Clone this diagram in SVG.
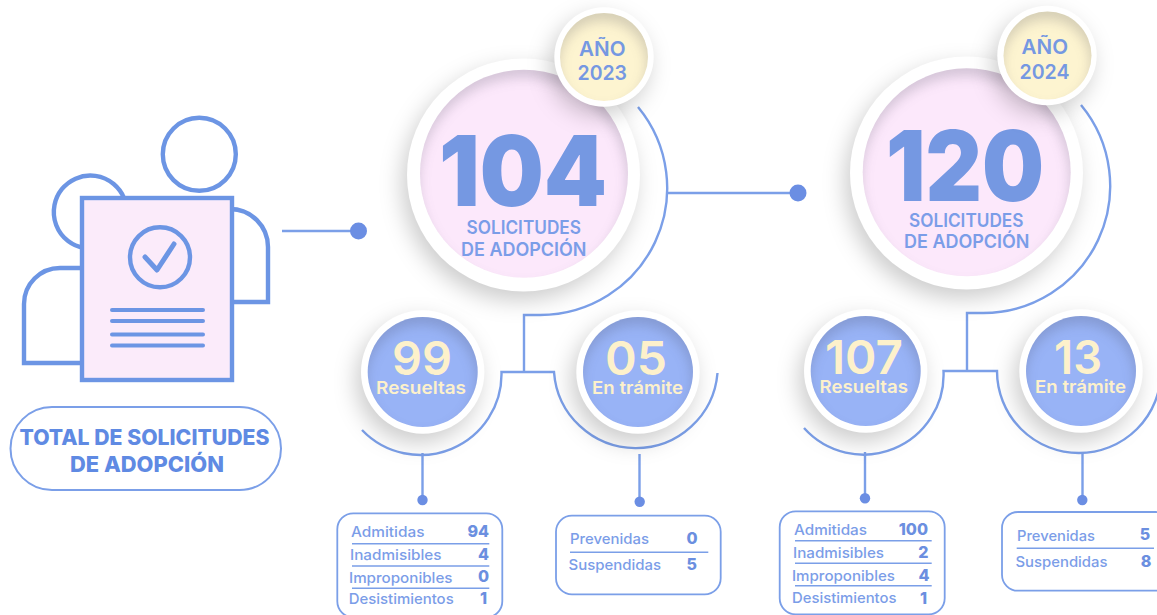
<svg xmlns="http://www.w3.org/2000/svg" width="1157" height="615" viewBox="0 0 1157 615">
<style>
text{font-family:"Inter","Liberation Sans",sans-serif}
.i{fill:none;stroke:#6c95e4;stroke-width:4.400}
.l{stroke:#6c95e4;stroke-width:5;stroke-linecap:round;stroke-linejoin:round;fill:none}
.c{fill:none;stroke:#7b9fe8;stroke-width:2.400}
.d{fill:#6b8ee3}
.ring{fill:#fff;filter:url(#out)}
.pink{fill:#fce8fb;filter:url(#ins)}
.cream{fill:#fdf4d0;filter:url(#ins)}
.blue{fill:#98b3f6;filter:url(#ins)}
.big{font-size:98px;font-weight:900;fill:#7598e2}
.sub{font-size:18.500px;font-weight:600;fill:#7b9de8}
.yr{font-size:20.500px;font-weight:600;fill:#7598e2}
.n{font-size:47px;font-weight:600;fill:#fdf1cb}
.r{font-size:17.500px;font-weight:600;fill:#fdf1cb}
.box{fill:#fff;stroke:#7b9fe8;stroke-width:1.800}
.sep{stroke:#7b9fe8;stroke-width:1.500}
.t{font-size:14.500px;font-weight:500;fill:#7b9de8}
.v{font-size:16px;font-weight:800;fill:#6b8fe0}
.tt{font-size:21.500px;font-weight:800;fill:#5f8ae3}
</style>
<defs>
<filter id="out" x="-40%" y="-40%" width="180%" height="180%" color-interpolation-filters="sRGB"><feDropShadow dx="-5" dy="9" stdDeviation="11" flood-color="#000" flood-opacity=".2"/></filter>
<filter id="ins" x="-10%" y="-10%" width="120%" height="120%" color-interpolation-filters="sRGB">
<feOffset in="SourceAlpha" dy="8" dx="-1" result="o"/><feGaussianBlur in="o" stdDeviation="6" result="b"/>
<feComposite in="SourceAlpha" in2="b" operator="out" result="e"/>
<feFlood flood-color="#3a3a50" flood-opacity=".2"/><feComposite in2="e" operator="in" result="s"/>
<feMerge><feMergeNode in="SourceGraphic"/><feMergeNode in="s"/></feMerge>
</filter>
</defs>
<g id="connectors">
<path class="c" d="M282,231H358"/><circle class="d" cx="358.500" cy="231" r="8.500"/>
<path class="c" d="M667,193H798"/><circle class="d" cx="798" cy="193" r="8.500"/>
<path class="c" d="M638,107A127,127 0 0 1 540,315H524V372"/>
<path class="c" d="M1081,105A127,127 0 0 1 983,313H967V371"/>
<path class="c" d="M362,430A81,81 0 0 0 501.500,372H554A82,82 0 0 0 717.500,373"/>
<path class="c" d="M804,428A80,80 0 0 0 943.500,371H997A82,82 0 0 0 1161,371"/>
<path class="c" d="M422.500,453V500M639.500,454V501M865,452V498M1082.500,453V500"/>
<circle class="d" cx="422.500" cy="500" r="5.200"/><circle class="d" cx="639.700" cy="501.700" r="5.200"/>
<circle class="d" cx="865" cy="498.300" r="5.200"/><circle class="d" cx="1082.300" cy="500" r="5.200"/>
</g>
<g id="icon">
<circle class="i" cx="199.300" cy="154.300" r="36.500"/>
<path class="i" d="M124,198A36.500,36.500 0 1 0 84,248"/>
<path class="i" d="M84,268H60A36,36 0 0 0 24,304V363H84"/>
<path class="i" d="M230,209A38,38 0 0 1 268,247V302H230"/>
<rect class="i" x="82" y="198" width="150" height="182" style="fill:#fbebfa"/>
<circle class="i" cx="160" cy="257.300" r="30"/>
<path class="l" d="M145,257L157,270L174,244"/>
<path class="l" style="stroke-width:4" d="M112,310H203M112,321H203M112,334.500H203M112,345.500H203"/>
</g>
<g id="total">
<rect x="10.500" y="407" width="270.500" height="83" rx="41.500" fill="#fff" stroke="#7b9fe8" stroke-width="2"/>
<text class="tt" x="19.500" y="445" textLength="250" lengthAdjust="spacingAndGlyphs">TOTAL DE SOLICITUDES</text>
<text class="tt" x="70" y="472" textLength="154" lengthAdjust="spacingAndGlyphs">DE ADOPCIÓN</text>
</g>
<g id="main-2023">
<circle class="ring" cx="523.500" cy="175" r="116.500"/>
<circle class="pink" cx="524" cy="173.700" r="104"/>
<text class="big" x="439" y="206" textLength="168" lengthAdjust="spacingAndGlyphs">104</text>
<text class="sub" x="466.500" y="234" textLength="114.500" lengthAdjust="spacingAndGlyphs">SOLICITUDES</text>
<text class="sub" x="461" y="255.700" textLength="125.500" lengthAdjust="spacingAndGlyphs">DE ADOPCIÓN</text>
</g>
<g id="year-2023">
<circle class="ring" cx="604" cy="57" r="49.700"/>
<circle class="cream" cx="604" cy="57" r="44"/>
<text class="yr" x="579" y="55.700" textLength="46.500" lengthAdjust="spacingAndGlyphs">AÑO</text>
<text class="yr" x="577.500" y="80" textLength="49.500" lengthAdjust="spacingAndGlyphs">2023</text>
</g>
<g id="main-2024">
<circle class="ring" cx="966.500" cy="173" r="116.500"/>
<circle class="pink" cx="966.700" cy="172.300" r="104"/>
<text class="big" x="886" y="201" textLength="158" lengthAdjust="spacingAndGlyphs">120</text>
<text class="sub" x="909" y="226.700" textLength="114.500" lengthAdjust="spacingAndGlyphs">SOLICITUDES</text>
<text class="sub" x="904" y="248.300" textLength="125.500" lengthAdjust="spacingAndGlyphs">DE ADOPCIÓN</text>
</g>
<g id="year-2024">
<circle class="ring" cx="1047" cy="55.500" r="49.700"/>
<circle class="cream" cx="1047.500" cy="55.500" r="44"/>
<text class="yr" x="1021.500" y="54" textLength="46.500" lengthAdjust="spacingAndGlyphs">AÑO</text>
<text class="yr" x="1019.500" y="78.700" textLength="50" lengthAdjust="spacingAndGlyphs">2024</text>
</g>
<g id="resueltas-2023">
<circle class="ring" cx="422.700" cy="372" r="61.700"/><circle class="blue" cx="422.700" cy="372" r="55"/>
<text class="n" x="392" y="375" textLength="60" lengthAdjust="spacingAndGlyphs">99</text>
<text class="r" x="376" y="394.300" textLength="90" lengthAdjust="spacingAndGlyphs">Resueltas</text>
</g>
<g id="tramite-2023">
<circle class="ring" cx="638" cy="372" r="61.700"/><circle class="blue" cx="638" cy="372" r="55"/>
<text class="n" x="605" y="375" textLength="62" lengthAdjust="spacingAndGlyphs">05</text>
<text class="r" x="592" y="394.300" textLength="91" lengthAdjust="spacingAndGlyphs">En trámite</text>
</g>
<g id="resueltas-2024">
<circle class="ring" cx="865.700" cy="371" r="61.700"/><circle class="blue" cx="865.700" cy="371" r="55"/>
<text class="n" x="825" y="374" textLength="78" lengthAdjust="spacingAndGlyphs">107</text>
<text class="r" x="819.500" y="392.700" textLength="88.500" lengthAdjust="spacingAndGlyphs">Resueltas</text>
</g>
<g id="tramite-2024">
<circle class="ring" cx="1081" cy="371" r="61.700"/><circle class="blue" cx="1081" cy="371" r="55"/>
<text class="n" x="1054" y="374" textLength="48" lengthAdjust="spacingAndGlyphs">13</text>
<text class="r" x="1035" y="392.700" textLength="91" lengthAdjust="spacingAndGlyphs">En trámite</text>
</g>
<g id="detail-resueltas-2023">
<rect class="box" x="337.300" y="513.300" width="165" height="104" rx="16"/>
<path class="sep" d="M352,543.700H489.300M352,566H489.300M352,588.300H489.300"/>
<text class="t" x="351" y="536.700" textLength="73.500" lengthAdjust="spacingAndGlyphs">Admitidas</text>
<text class="t" x="350" y="559.700" textLength="91.500" lengthAdjust="spacingAndGlyphs">Inadmisibles</text>
<text class="t" x="349" y="582.700" textLength="103.500" lengthAdjust="spacingAndGlyphs">Improponibles</text>
<text class="t" x="348.700" y="604" textLength="105" lengthAdjust="spacingAndGlyphs">Desistimientos</text>
<text class="v" x="489" y="536.700" text-anchor="end">94</text>
<text class="v" x="489" y="559.500" text-anchor="end">4</text>
<text class="v" x="489" y="581.700" text-anchor="end">0</text>
<text class="v" x="487" y="604" text-anchor="end">1</text>
</g>
<g id="detail-tramite-2023">
<rect class="box" x="556" y="515.700" width="164.700" height="78.600" rx="16"/>
<path class="sep" d="M570,552.300H708.300"/>
<text class="t" x="570" y="544.300" textLength="79" lengthAdjust="spacingAndGlyphs">Prevenidas</text>
<text class="t" x="568.500" y="570" textLength="92.500" lengthAdjust="spacingAndGlyphs">Suspendidas</text>
<text class="v" x="692" y="544" text-anchor="middle">0</text>
<text class="v" x="691.700" y="570" text-anchor="middle">5</text>
</g>
<g id="detail-resueltas-2024">
<rect class="box" x="779.700" y="511.300" width="165" height="103" rx="16"/>
<path class="sep" d="M795,540.700H931.700M795,563.300H931.700M795,585.700H931.700"/>
<text class="t" x="794" y="535" textLength="73" lengthAdjust="spacingAndGlyphs">Admitidas</text>
<text class="t" x="793" y="557.700" textLength="91" lengthAdjust="spacingAndGlyphs">Inadmisibles</text>
<text class="t" x="792" y="580.700" textLength="103" lengthAdjust="spacingAndGlyphs">Improponibles</text>
<text class="t" x="792" y="602.700" textLength="104.500" lengthAdjust="spacingAndGlyphs">Desistimientos</text>
<text class="v" x="928" y="535" text-anchor="end">100</text>
<text class="v" x="928.500" y="557.700" text-anchor="end">2</text>
<text class="v" x="929.500" y="581" text-anchor="end">4</text>
<text class="v" x="927" y="604" text-anchor="end">1</text>
</g>
<g id="detail-tramite-2024">
<rect class="box" x="1002" y="512" width="170" height="78.700" rx="16"/>
<path class="sep" d="M1016.700,548.300H1154"/>
<text class="t" x="1017" y="540.700" textLength="78" lengthAdjust="spacingAndGlyphs">Prevenidas</text>
<text class="t" x="1015.500" y="566.700" textLength="92" lengthAdjust="spacingAndGlyphs">Suspendidas</text>
<text class="v" x="1145" y="540" text-anchor="middle">5</text>
<text class="v" x="1146" y="566.700" text-anchor="middle">8</text>
</g>
</svg>
